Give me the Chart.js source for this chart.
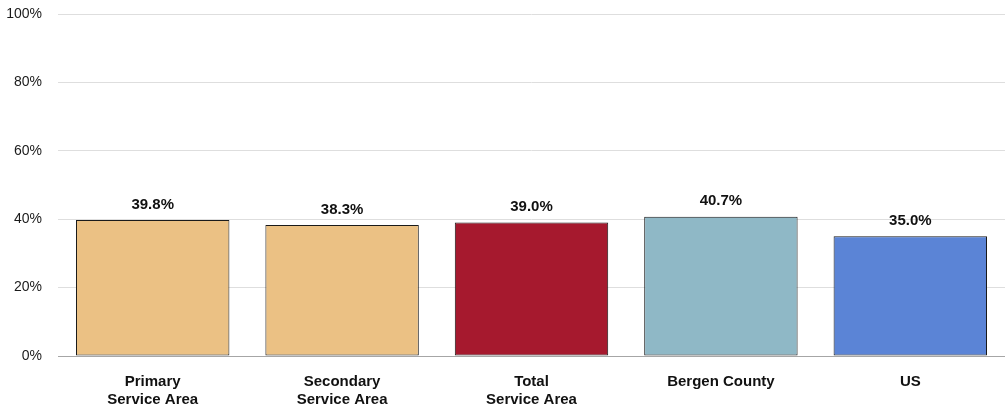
<!DOCTYPE html>
<html>
<head>
<meta charset="utf-8">
<script src="https://cdn.jsdelivr.net/npm/chart.js@4/dist/chart.umd.min.js"></script>
<style>
  html, body { margin: 0; padding: 0; background: #fff; }
  #wrap { width: 1005px; height: 414px; }
</style>
</head>
<body>
<div id="wrap"><canvas id="chart"></canvas></div>
<script>
const categories = [['Primary', 'Service Area'], ['Secondary', 'Service Area'], ['Total', 'Service Area'], 'Bergen County', 'US'];
const values = [39.8, 38.3, 39.0, 40.7, 35.0];
const barColors = ['#ebc184', '#ebc184', '#a6192e', '#8fb8c6', '#5b84d6'];
const yTicks = [0, 20, 40, 60, 80, 100];

// bold value labels above each bar
const valueLabels = {
    id: 'valueLabels',
    afterDatasetsDraw(chart) {
        const ctx = chart.ctx;
        const meta = chart.getDatasetMeta(0);
        ctx.save();
        ctx.font = 'bold 15px "Liberation Sans", Arial, sans-serif';
        ctx.fillStyle = '#111';
        ctx.textAlign = 'center';
        ctx.textBaseline = 'bottom';
        meta.data.forEach((bar, i) => {
            ctx.fillText(values[i].toFixed(1) + '%', bar.x, bar.y - 8);
        });
        ctx.restore();
    }
};

const ctx = document.getElementById('chart').getContext('2d');
new Chart(ctx, {
    type: 'bar',
    data: {
        labels: categories,
        datasets: [{
            data: values,
            backgroundColor: barColors,
            borderColor: '#1a1a1a',
            borderWidth: 1,
            borderSkipped: false,
            barPercentage: 0.81,
            categoryPercentage: 1
        }]
    },
    options: {
        responsive: true,
        maintainAspectRatio: false,
        animation: false,
        layout: { autoPadding: false, padding: { top: 0, right: 0, left: 0, bottom: 4 } },
        plugins: {
            legend: { display: false },
            tooltip: { enabled: false }
        },
        scales: {
            x: {
                grid: { display: false, drawTicks: false },
                border: { display: true, color: '#a6a6a6', width: 1 },
                afterFit(axis) {
                    axis.height = 54;
                },
                ticks: {
                    color: '#111',
                    padding: 16,
                    maxRotation: 0,
                    font: { family: '"Liberation Sans", Arial, sans-serif', size: 15, weight: 'bold', lineHeight: 1.25 }
                }
            },
            y: {
                min: 0,
                max: 100,
                afterBuildTicks(axis) {
                    axis.ticks = yTicks.map(v => ({ value: v }));
                },
                afterFit(axis) {
                    axis.width = 58;
                    axis.paddingTop = 14;
                    axis.paddingBottom = 0;
                },
                grid: { color: '#dedede', drawTicks: false },
                border: { display: false },
                ticks: {
                    color: '#1a1a1a',
                    padding: 16,
                    font: { family: '"Liberation Sans", Arial, sans-serif', size: 14 },
                    callback: v => v + '%'
                }
            }
        }
    },
    plugins: [valueLabels]
});
</script>
</body>
</html>
